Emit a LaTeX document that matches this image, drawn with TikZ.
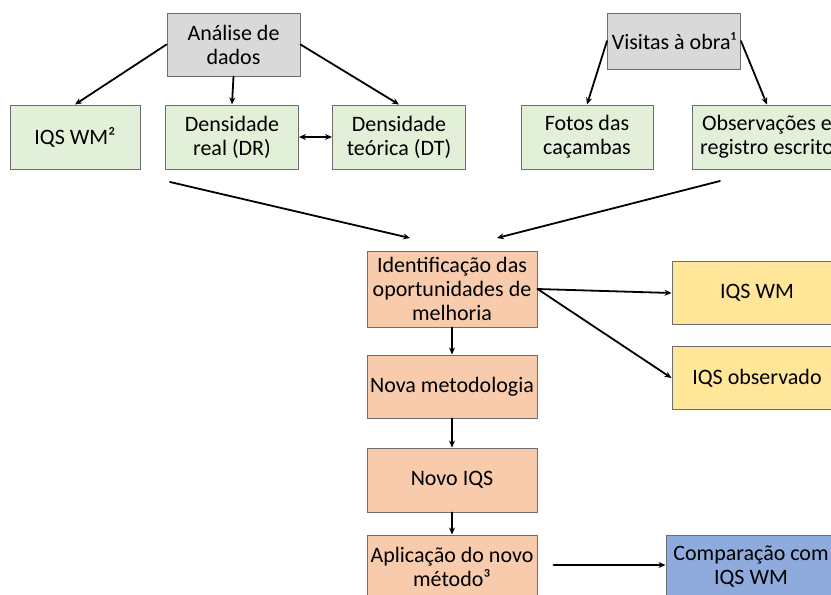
\documentclass[tikz,border=0pt]{standalone}
\usepackage{fontspec}
\setmainfont{Carlito}
\usetikzlibrary{arrows.meta}
\usepackage{xcolor}
\definecolor{cinza}{HTML}{D9D9D9}
\definecolor{verde}{HTML}{E2F0D9}
\definecolor{laranja}{HTML}{F8CBAD}
\definecolor{amarelo}{HTML}{FFE699}
\definecolor{azul}{HTML}{8FAADC}
\definecolor{borda}{HTML}{6E6E6E}

\begin{document}
\begin{tikzpicture}[x=1pt,y=-1pt,>={Stealth[length=7pt,width=6pt]},
  font=\fontsize{22}{24}\selectfont,line cap=round,
  caixa/.style={draw=borda,line width=1pt,align=center,inner sep=1pt,minimum height=63pt},
  cinzabox/.style={caixa,fill=cinza,minimum width=133pt},
  verdebox/.style={caixa,fill=verde,minimum width=133pt,minimum height=64pt},
  laranjabox/.style={caixa,fill=laranja,minimum width=170pt},
  amarelobox/.style={caixa,fill=amarelo,minimum width=170pt},
  azulbox/.style={caixa,fill=azul,minimum width=170pt},
  seta/.style={->,line width=1.8pt}]
\useasboundingbox (0,0) rectangle (831,595);
\clip (0,0) rectangle (831,595);
\fill[white] (0,0) rectangle (831,595);
\node[cinzabox] (analise) at (233.5,44.5) {Análise de\\dados};
\node[cinzabox,minimum height=56pt] (visitas) at (674,41) {Visitas à obra¹};
\node[verdebox,minimum width=130pt] (iqswm2) at (75,137) {IQS WM²};
\node[verdebox] (dr) at (232,137) {Densidade\\real (DR)};
\node[verdebox] (dt) at (399,137) {Densidade\\teórica (DT)};
\node[verdebox,minimum width=132pt] (fotos) at (587,137) {Fotos das\\caçambas};
\node[verdebox,minimum width=150pt] (obs) at (767,137) {Observações e\\registro escrito};
\node[laranjabox,minimum height=76pt] (ident) at (452,289) {Identificação das\\oportunidades de\\melhoria};
\node[laranjabox] (novamet) at (452,386.5) {Nova metodologia};
\node[laranjabox,minimum height=64pt] (novoiqs) at (452,480) {Novo IQS};
\node[laranjabox] (aplic) at (452,566.5) {Aplicação do novo\\método³};
\node[amarelobox] (iqswm) at (757,293) {IQS WM};
\node[amarelobox] (iqsobs) at (757,378) {IQS observado};
\node[azulbox] (comp) at (751,566.5) {Comparação com\\IQS WM};
\coordinate (saidaE) at (170,182);
\coordinate (chegadaE) at (410,238);
\coordinate (saidaD) at (720,181);
\coordinate (chegadaD) at (497,238);
\draw[seta] (analise.west) -- (iqswm2.north);
\draw[seta] (analise.south) -- (dr.north);
\draw[seta] (analise.east) -- (dt.north);
\draw[seta,<->] (dr.east) -- (dt.west);
\draw[seta] (visitas.west) -- (fotos.north);
\draw[seta] (visitas.east) -- (obs.north);
\draw[seta] (saidaE) -- (chegadaE);
\draw[seta] (saidaD) -- (chegadaD);
\draw[seta] (ident.east) -- (iqswm.west);
\draw[seta] (ident.east) -- (iqsobs.west);
\draw[seta] (ident.south) -- (novamet.north);
\draw[seta] (novamet.south) -- (novoiqs.north);
\draw[seta] (novoiqs.south) -- (aplic.north);
\draw[seta] ([xshift=16pt,yshift=1.5pt]aplic.east) -- ([yshift=1.5pt]comp.west);
\end{tikzpicture}
\end{document}
